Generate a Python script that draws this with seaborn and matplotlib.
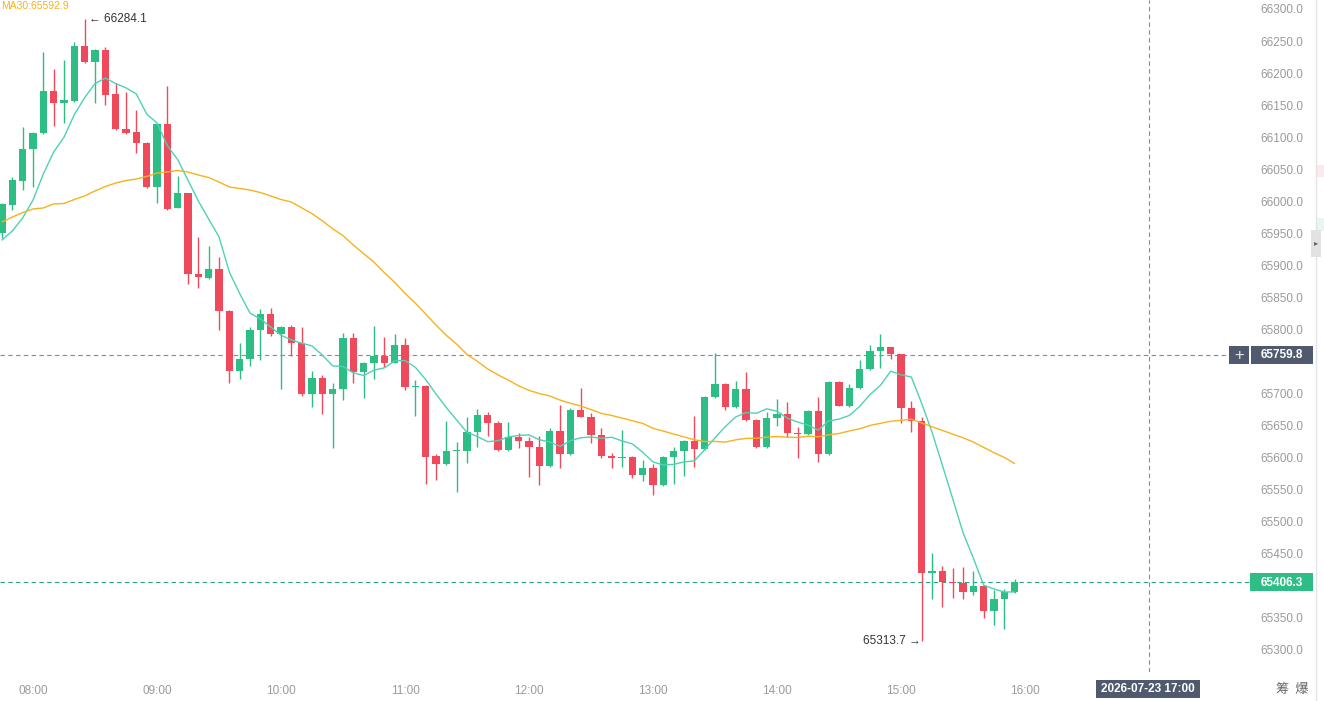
import numpy as np
import pandas as pd
import matplotlib
matplotlib.use("Agg")
import matplotlib.pyplot as plt
import seaborn as sns

# ---------------- data (5-minute candles, 07:45 .. 15:55) ----------------
start_time = "07:45"
opens = [65950.5, 65994.2, 66031.7, 66081.6, 66106.5, 66172.1, 66153.4, 66156.9, 66242.3, 66217.8,
         66236.0, 66167.4, 66112.3, 66108.1, 66091.4, 66022.8, 66120.6, 65990.0, 66012.5, 65886.1,
         65881.0, 65893.9, 65828.8, 65735.7, 65753.5, 65799.2, 65824.2, 65792.5, 65803.4, 65778.5,
         65698.9, 65723.9, 65698.9, 65706.7, 65786.3, 65734.2, 65748.2, 65758.6, 65748.2, 65775.8,
         65709.8, 65711.8, 65602.6, 65590.2, 65610.4, 65611.0, 65640.1, 65666.1, 65654.6, 65612.0,
         65632.3, 65626.5, 65617.1, 65587.5, 65642.1, 65605.8, 65674.4, 65664.0, 65635.4, 65603.1,
         65599.0, 65601.5, 65573.0, 65584.4, 65557.4, 65601.5, 65610.4, 65626.0, 65613.1, 65694.2,
         65715.0, 65679.5, 65706.7, 65658.8, 65617.1, 65662.4, 65668.2, 65639.0, 65637.0, 65672.8,
         65605.3, 65717.6, 65681.1, 65708.3, 65737.9, 65766.4, 65772.2, 65761.3, 65678.0, 65657.2,
         65420.6, 65423.7, 65406.5, 65405.0, 65390.9, 65399.8, 65361.3, 65379.1, 65390.9]
highs = [65997.0, 66038.4, 66116.4, 66108.0, 66233.4, 66205.9, 66220.4, 66249.0, 66284.1, 66238.0,
         66240.2, 66184.1, 66171.0, 66142.4, 66092.0, 66122.0, 66179.9, 66039.5, 66013.0, 65944.8,
         65930.3, 65913.6, 65830.0, 65778.5, 65804.4, 65831.5, 65833.0, 65805.0, 65807.0, 65804.4,
         65735.2, 65729.0, 65716.1, 65794.1, 65794.0, 65750.0, 65805.4, 65788.7, 65792.5, 65787.2,
         65721.2, 65713.0, 65605.8, 65657.2, 65625.0, 65664.0, 65675.5, 65672.0, 65657.0, 65655.2,
         65638.0, 65632.0, 65633.8, 65646.0, 65682.2, 65678.0, 65709.2, 65669.2, 65646.8, 65608.0,
         65643.2, 65602.0, 65596.4, 65590.2, 65603.0, 65617.1, 65627.0, 65665.0, 65696.0, 65763.8,
         65716.0, 65720.1, 65733.7, 65660.0, 65671.7, 65691.6, 65687.3, 65647.4, 65674.0, 65695.2,
         65720.0, 65719.0, 65714.5, 65752.4, 65775.8, 65793.0, 65773.0, 65762.0, 65688.4, 65663.0,
         65450.8, 65431.5, 65428.4, 65430.0, 65423.7, 65401.0, 65393.6, 65395.0, 65410.3]
lows = [65942.7, 65986.4, 66017.6, 66022.3, 66105.0, 66117.9, 66122.1, 66155.0, 66216.0, 66153.4,
        66150.2, 66111.2, 66105.0, 66075.3, 66020.7, 65997.3, 65986.0, 65989.0, 65871.0, 65864.7,
        65878.8, 65799.2, 65716.1, 65722.3, 65743.0, 65752.4, 65789.8, 65706.7, 65758.6, 65697.0,
        65679.5, 65667.7, 65615.6, 65690.0, 65717.0, 65692.6, 65722.3, 65742.0, 65747.0, 65705.6,
        65665.0, 65559.0, 65565.2, 65589.0, 65546.9, 65592.2, 65617.1, 65633.8, 65610.0, 65610.0,
        65614.6, 65569.4, 65557.4, 65586.0, 65583.5, 65604.0, 65663.0, 65622.5, 65599.0, 65583.5,
        65585.0, 65567.8, 65564.1, 65541.8, 65556.0, 65559.0, 65571.4, 65585.0, 65612.0, 65693.0,
        65674.4, 65678.0, 65657.0, 65615.0, 65615.0, 65649.4, 65632.7, 65599.0, 65635.0, 65593.7,
        65604.0, 65680.0, 65678.6, 65707.0, 65737.0, 65739.5, 65753.5, 65653.6, 65640.5, 65313.7,
        65379.1, 65366.6, 65380.7, 65379.0, 65385.8, 65349.4, 65339.0, 65332.3, 65389.0]
closes = [65995.8, 66033.2, 66081.6, 66106.5, 66172.1, 66153.4, 66158.0, 66242.3, 66217.8, 66236.0,
          66165.8, 66112.3, 66107.0, 66091.4, 66022.8, 66120.6, 65988.0, 66013.4, 65886.1, 65881.4,
          65893.9, 65828.8, 65735.7, 65753.5, 65799.2, 65824.2, 65792.5, 65803.4, 65778.5, 65698.9,
          65723.9, 65698.9, 65706.7, 65786.3, 65734.2, 65748.2, 65758.6, 65748.2, 65775.8, 65709.8,
          65711.8, 65601.5, 65590.2, 65610.4, 65612.0, 65640.1, 65666.1, 65654.6, 65612.0, 65632.3,
          65626.5, 65617.1, 65587.5, 65642.1, 65605.8, 65674.4, 65664.0, 65635.4, 65603.1, 65599.0,
          65601.5, 65573.0, 65584.4, 65557.4, 65601.5, 65610.4, 65626.0, 65613.1, 65694.2, 65715.0,
          65679.5, 65706.7, 65658.8, 65617.1, 65662.4, 65668.2, 65639.0, 65637.0, 65672.8, 65605.3,
          65717.6, 65681.1, 65708.3, 65737.9, 65766.4, 65772.2, 65761.3, 65678.0, 65657.2, 65420.6,
          65423.7, 65406.5, 65405.0, 65390.9, 65399.8, 65361.3, 65379.1, 65390.9, 65406.3]

# moving-average values for the candles before the window is full
ma7_head = [65939.6, 65953.7, 65974.0, 66002.0, 66042.6, 66076.9]
ma30_head = [65967.7, 65975.5, 65982.5, 65988.0, 65989.6, 65995.8, 65996.6, 66002.8, 66008.3, 66016.1,
             66023.1, 66028.5, 66032.4, 66034.8, 66038.7, 66044.1, 66045.7, 66048.1, 66045.7, 66041.0,
             66037.1, 66030.1, 66022.3, 66020.0, 66017.6, 66013.7, 66008.3, 66002.8, 65998.9]

hour_labels = ["08:00", "09:00", "10:00", "11:00", "12:00", "13:00", "14:00", "15:00", "16:00"]
y_ticks = [66300, 66250, 66200, 66150, 66100, 66050, 66000, 65950, 65900, 65850, 65800,
           65700, 65650, 65600, 65550, 65500, 65450, 65350, 65300]
crosshair_price = 65759.8
last_price = 65406.3
crosshair_label = "2026-07-23 17:00"
max_price = 66284.1
min_price = 65313.7
ma_caption = "MA30:65592.9"

# ---------------- styling ----------------
W, H = 1324, 701
GREEN = "#2ebd85"
RED = "#ef4a5b"
MA7_C = "#4fd1b5"
MA30_C = "#f5b31d"
DARK = "#505a6e"
GREY_TXT = "#9a9a9a"

sns.set_theme(style="white")
plt.rcParams["font.family"] = ["Liberation Sans", "Noto Sans CJK SC", "DejaVu Sans"]

n = len(closes)
idx = np.arange(n)
df = pd.DataFrame({"i": idx, "open": opens, "high": highs, "low": lows, "close": closes})
ma7 = df["close"].rolling(7).mean().to_numpy()
ma7[:len(ma7_head)] = ma7_head
ma30 = df["close"].rolling(30).mean().to_numpy()
ma30[:len(ma30_head)] = ma30_head
df["ma7"] = ma7
df["ma30"] = ma30

fig = plt.figure(figsize=(W / 100, H / 100), dpi=100)
ax_left, ax_right, ax_top, ax_bottom = 0, 1250, 0, 672
ax = fig.add_axes([ax_left / W, 1 - ax_bottom / H, (ax_right - ax_left) / W, (ax_bottom - ax_top) / H])
ax.set_facecolor("white")

# px per candle = 10.333; candle 0 at x=2px
px_per = 124 / 12
x0 = -2 / px_per
x1 = x0 + (ax_right - ax_left) / px_per
ax.set_xlim(x0, x1)
ppu = 0.641  # px per price unit
ytop = 66300 + 9 / ppu
ybot = 66300 - (ax_bottom - 9) / ppu
ax.set_ylim(ybot, ytop)

up = df["close"] >= df["open"]
cols = np.where(up, GREEN, RED)
body_bottom = np.minimum(df["open"], df["close"])
body_h = np.maximum(np.abs(df["close"] - df["open"]), 1.7)
ax.vlines(df["i"], df["low"], df["high"], colors=cols, linewidth=1.0, zorder=2)
ax.bar(df["i"], body_h, bottom=body_bottom, width=0.68, color=cols, linewidth=0, zorder=3)

sns.lineplot(data=df, x="i", y="ma7", ax=ax, color=MA7_C, linewidth=1.0, zorder=4, legend=False)
sns.lineplot(data=df, x="i", y="ma30", ax=ax, color=MA30_C, linewidth=1.0, zorder=4, legend=False)

# crosshair & last price lines
cross_x = 3 + 9 * 12  # 17:00
ax.axhline(crosshair_price, xmin=0, xmax=1228 / ax_right, color="#8a8a8a", linewidth=0.8,
           linestyle=(0, (4, 3)), zorder=1)
ax.axhline(last_price, color="#2aa582", linewidth=0.8, linestyle=(0, (4, 3)), zorder=1)
ax.axvline(cross_x, color="#8a8a8a", linewidth=0.8, linestyle=(0, (4, 3)), zorder=1)

# extreme annotations
imax = int(np.argmax(highs))
imin = int(np.argmin(lows))
ax.annotate("\u2190 " + f"{max_price:.1f}", xy=(imax, max_price), xytext=(3, 0),
            textcoords="offset points", ha="left", va="center", fontsize=8.5, color="#333333",
            family=["Liberation Sans", "DejaVu Sans"])
ax.annotate(f"{min_price:.1f}" + " \u2192", xy=(imin, min_price), xytext=(-1, 0),
            textcoords="offset points", ha="right", va="center", fontsize=8.5, color="#333333",
            family=["Liberation Sans", "DejaVu Sans"])

# axes ticks
ax.yaxis.tick_right()
ax.set_yticks(y_ticks)
ax.set_yticklabels([f"{v:.1f}" for v in y_ticks])
ax.tick_params(axis="y", length=0, pad=7.5, labelsize=8.5, labelcolor=GREY_TXT)
ax.set_xticks([3 + 12 * k for k in range(len(hour_labels))])
ax.set_xticklabels(hour_labels)
ax.tick_params(axis="x", length=0, pad=9, labelsize=8.5, labelcolor=GREY_TXT)
ax.set_xlabel("")
ax.set_ylabel("")
for s in ax.spines.values():
    s.set_visible(False)
ax.grid(False)


def fx(px):
    return px / W


def fy(py):
    return 1 - py / H


def box(x_px, y_px, w_px, h_px, color):
    fig.add_artist(plt.Rectangle((fx(x_px), fy(y_px + h_px)), w_px / W, h_px / H,
                                 facecolor=color, edgecolor="none", linewidth=0, zorder=5))


# price label boxes on the right
box(1251, 346, 62, 18, DARK)
fig.text(fx(1282), fy(355.5), f"{crosshair_price:.1f}", ha="center", va="center", fontsize=8.5,
         color="white", fontweight="bold", zorder=6)
box(1229, 346, 20, 18, DARK)
fig.text(fx(1239), fy(355.5), "+", ha="center", va="center", fontsize=12, color="#e8e8e8", zorder=6)
box(1250, 573, 63, 18, GREEN)
fig.text(fx(1281.5), fy(582.5), f"{last_price:.1f}", ha="center", va="center", fontsize=8.5,
         color="white", fontweight="bold", zorder=6)
box(1096, 680, 104, 18, DARK)
fig.text(fx(1148), fy(689.5), crosshair_label, ha="center", va="center", fontsize=8.5,
         color="white", fontweight="bold", zorder=6)
fig.text(fx(1292), fy(690), "筹  爆", ha="center", va="center", fontsize=9.5, color="#666666",
         family=["Noto Sans CJK SC", "DejaVu Sans"])

# MA caption at top-left (kept fully inside the picture)
fig.text(fx(1), fy(1), ma_caption, ha="left", va="top", fontsize=7.5, color=MA30_C)

# right-edge strip with collapse tab
fig.add_artist(plt.Line2D([fx(1316), fx(1316)], [0, 1], color="#e4e4e4", linewidth=1.0))
fig.add_artist(plt.Rectangle((fx(1317), fy(177)), fx(7), 12 / H, color="#fbeaec", linewidth=0))
fig.add_artist(plt.Rectangle((fx(1317), fy(231)), fx(7), 13 / H, color="#e6f6f0", linewidth=0))
fig.add_artist(plt.Rectangle((fx(1311), fy(257)), fx(10), 27 / H, color="#e2e2e2", linewidth=0))
fig.text(fx(1316), fy(243), "\u25b8", ha="center", va="center", fontsize=6, color="#666666",
         family=["DejaVu Sans"])

fig.savefig("out.png", dpi=100, facecolor="white")
